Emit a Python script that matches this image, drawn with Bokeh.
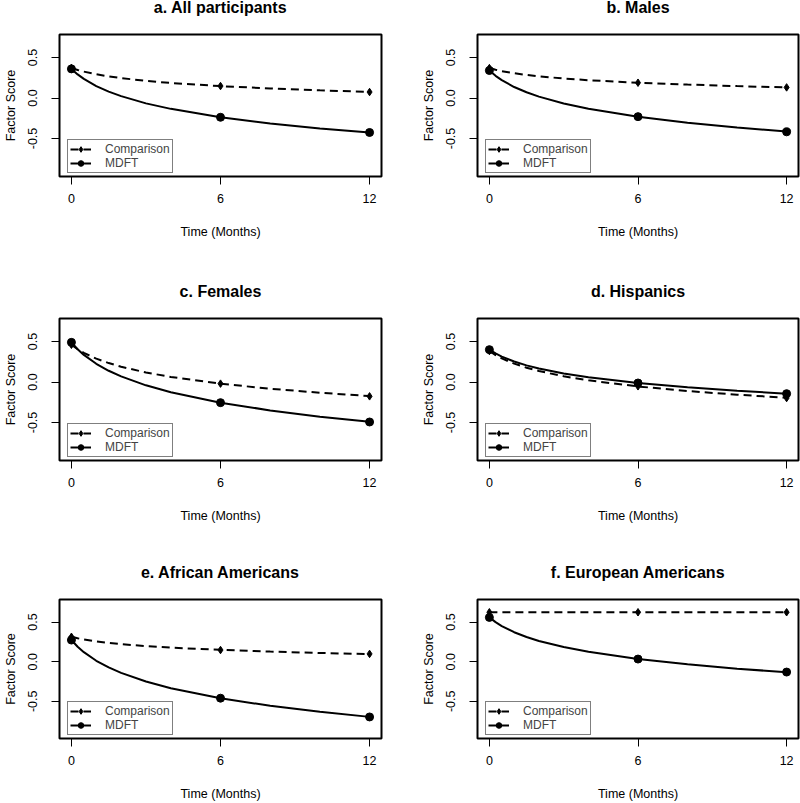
from bokeh.plotting import figure
from bokeh.layouts import column, row
from bokeh.models import Range1d, FixedTicker, NumeralTickFormatter, Legend, LegendItem, Label
from bokeh.embed import file_html
from bokeh.resources import INLINE

# ---------------- data ----------------
months_obs = [0, 6, 12]
curve_t = [0, 0.25, 0.5, 1, 1.5, 2, 3, 4, 6, 8, 10, 12]

titles = ["a. All participants", "b. Males", "c. Females",
          "d. Hispanics", "e. African Americans", "f. European Americans"]
series_names = ["Comparison", "MDFT"]
x_tick_values = [0, 6, 12]
y_tick_values = [-0.5, 0.0, 0.5]

# observed means at 0, 6, 12 months
comp_obs_a = [0.373, 0.148, 0.074]
mdft_obs_a = [0.360, -0.238, -0.426]
comp_obs_b = [0.370, 0.189, 0.131]
mdft_obs_b = [0.340, -0.230, -0.418]
comp_obs_c = [0.460, -0.020, -0.177]
mdft_obs_c = [0.490, -0.255, -0.494]
comp_obs_d = [0.383, -0.053, -0.198]
mdft_obs_d = [0.400, -0.012, -0.144]
comp_obs_e = [0.314, 0.147, 0.098]
mdft_obs_e = [0.273, -0.461, -0.698]
comp_obs_f = [0.624, 0.624, 0.624]
mdft_obs_f = [0.559, 0.033, -0.131]

# fitted curves at curve_t
comp_curve_a = [0.373, 0.347, 0.326, 0.293, 0.267, 0.246, 0.212, 0.186, 0.147, 0.118, 0.095, 0.075]
mdft_curve_a = [0.360, 0.292, 0.236, 0.147, 0.079, 0.023, -0.066, -0.134, -0.237, -0.315, -0.376, -0.427]
comp_curve_b = [0.370, 0.349, 0.332, 0.306, 0.285, 0.268, 0.241, 0.220, 0.189, 0.166, 0.147, 0.131]
mdft_curve_b = [0.340, 0.274, 0.221, 0.136, 0.071, 0.017, -0.067, -0.133, -0.232, -0.306, -0.365, -0.414]
comp_curve_c = [0.460, 0.405, 0.360, 0.289, 0.234, 0.189, 0.118, 0.063, -0.021, -0.083, -0.132, -0.174]
mdft_curve_c = [0.490, 0.405, 0.335, 0.225, 0.139, 0.069, -0.041, -0.126, -0.255, -0.351, -0.428, -0.492]
comp_curve_d = [0.383, 0.333, 0.292, 0.227, 0.177, 0.136, 0.071, 0.021, -0.055, -0.111, -0.157, -0.194]
mdft_curve_d = [0.400, 0.353, 0.314, 0.253, 0.206, 0.167, 0.106, 0.059, -0.013, -0.066, -0.108, -0.144]
comp_curve_e = [0.314, 0.295, 0.280, 0.255, 0.236, 0.221, 0.196, 0.177, 0.149, 0.127, 0.110, 0.096]
mdft_curve_e = [0.273, 0.189, 0.120, 0.011, -0.073, -0.142, -0.251, -0.335, -0.463, -0.557, -0.633, -0.697]
comp_curve_f = [0.624, 0.624, 0.624, 0.624, 0.624, 0.624, 0.624, 0.624, 0.624, 0.624, 0.624, 0.624]
mdft_curve_f = [0.559, 0.499, 0.450, 0.372, 0.312, 0.262, 0.185, 0.125, 0.034, -0.034, -0.088, -0.134]

panels = [
    (comp_obs_a, mdft_obs_a, comp_curve_a, mdft_curve_a),
    (comp_obs_b, mdft_obs_b, comp_curve_b, mdft_curve_b),
    (comp_obs_c, mdft_obs_c, comp_curve_c, mdft_curve_c),
    (comp_obs_d, mdft_obs_d, comp_curve_d, mdft_curve_d),
    (comp_obs_e, mdft_obs_e, comp_curve_e, mdft_curve_e),
    (comp_obs_f, mdft_obs_f, comp_curve_f, mdft_curve_f),
]

FONT = "Liberation Sans"
TITLE_H = 32
col_w = [418, 382]
col_border = [(56, 37), (56, 2)]
row_h = [284, 281, 238]
row_border = [(2, 108), (2, 105), (2, 62)]


def make_title(i):
    r, c = divmod(i, 2)
    t = figure(width=col_w[c], height=TITLE_H, output_backend="svg",
               toolbar_location=None, tools="",
               x_range=Range1d(-0.48, 12.48), y_range=Range1d(0, 1),
               x_axis_location=None, y_axis_location=None,
               min_border_left=col_border[c][0], min_border_right=col_border[c][1],
               min_border_top=0, min_border_bottom=0)
    t.outline_line_color = None
    t.xgrid.visible = False
    t.ygrid.visible = False
    t.add_layout(Label(x=6, y=TITLE_H - 6.5, x_units="data", y_units="screen",
                       text=titles[i], text_font=FONT, text_font_size="16px",
                       text_font_style="bold", text_align="center",
                       text_baseline="middle", text_color="black"))
    return t


def make_panel(i):
    r, c = divmod(i, 2)
    comp_obs, mdft_obs, comp_curve, mdft_curve = panels[i]
    p = figure(width=col_w[c], height=row_h[r] - TITLE_H, output_backend="svg",
               toolbar_location=None, tools="",
               x_range=Range1d(-0.48, 12.48), y_range=Range1d(-0.97, 0.785),
               min_border_left=col_border[c][0], min_border_right=col_border[c][1],
               min_border_top=row_border[r][0], min_border_bottom=row_border[r][1])
    p.outline_line_color = "black"
    p.outline_line_width = 2
    p.outline_line_alpha = 1
    p.xgrid.visible = False
    p.ygrid.visible = False
    p.background_fill_color = "white"
    p.border_fill_color = "white"

    ln_c = p.line(curve_t, comp_curve, line_color="black", line_width=2, line_dash="8 5")
    pt_c = p.scatter(months_obs, comp_obs, marker="diamond", size=7.5,
                     fill_color="black", line_color="black")
    ln_m = p.line(curve_t, mdft_curve, line_color="black", line_width=2)
    pt_m = p.scatter(months_obs, mdft_obs, marker="circle", size=8,
                     fill_color="black", line_color="black")

    for ax in (p.xaxis[0], p.yaxis[0]):
        ax.axis_line_color = None
        ax.major_tick_out = 8
        ax.major_tick_in = 0
        ax.major_tick_line_color = "black"
        ax.major_tick_line_width = 1
        ax.minor_tick_line_color = None
        ax.major_label_text_font = FONT
        ax.major_label_text_font_size = "12.5px"
        ax.major_label_text_color = "black"
        ax.axis_label_text_font = FONT
        ax.axis_label_text_font_size = "12.5px"
        ax.axis_label_text_font_style = "normal"
        ax.axis_label_text_color = "black"
    p.xaxis[0].ticker = FixedTicker(ticks=x_tick_values)
    p.xaxis[0].axis_label = "Time (Months)"
    p.xaxis[0].major_label_standoff = 9
    p.xaxis[0].axis_label_standoff = 19
    p.yaxis[0].ticker = FixedTicker(ticks=y_tick_values)
    p.yaxis[0].formatter = NumeralTickFormatter(format="0.0")
    p.yaxis[0].major_label_orientation = "vertical"
    p.yaxis[0].axis_label = "Factor Score"
    p.yaxis[0].major_label_standoff = 14
    p.yaxis[0].axis_label_standoff = 8

    legend = Legend(items=[LegendItem(label=series_names[0], renderers=[ln_c, pt_c]),
                           LegendItem(label=series_names[1], renderers=[ln_m, pt_m])],
                    location=(8, 3))
    legend.label_text_font = FONT
    legend.label_text_font_size = "12px"
    legend.glyph_width = 21
    legend.glyph_height = 14
    legend.label_height = 14
    legend.label_standoff = 14
    legend.padding = 2
    legend.spacing = 0
    legend.margin = 0
    legend.border_line_color = "black"
    legend.border_line_width = 1
    legend.background_fill_color = "white"
    legend.background_fill_alpha = 1
    p.add_layout(legend, "center")
    return p


rows = []
for r in range(3):
    left = column(make_title(2 * r), make_panel(2 * r))
    right = column(make_title(2 * r + 1), make_panel(2 * r + 1))
    rows.append(row(left, right))
layout = column(*rows)

open("out.html", "w").write(file_html(layout, INLINE))
